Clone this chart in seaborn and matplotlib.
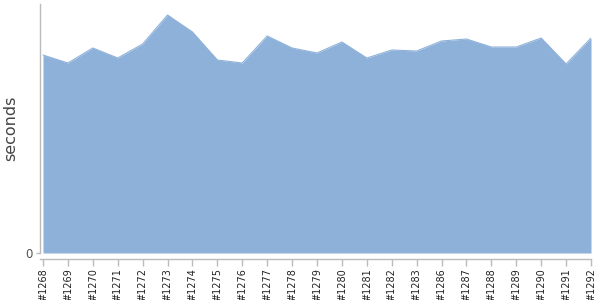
import matplotlib
matplotlib.use("Agg")
import matplotlib.pyplot as plt
import seaborn as sns
import numpy as np
import pandas as pd

builds = ["#1268", "#1269", "#1270", "#1271", "#1272", "#1273", "#1274", "#1275",
          "#1276", "#1277", "#1278", "#1279", "#1280", "#1281", "#1282", "#1283",
          "#1286", "#1287", "#1288", "#1289", "#1290", "#1291", "#1292"]
seconds = [198, 190, 205, 195, 209, 238, 221, 193, 190, 217, 205, 200, 211,
           195, 203, 202, 212, 214, 206, 206, 215, 189, 215]
y_ticks = [0]

sns.set_theme(style="white")
plt.rcParams['font.family'] = ['DejaVu Sans']

df = pd.DataFrame({"build": builds, "seconds": seconds})
df["pos"] = np.arange(len(builds))

fig = plt.figure(figsize=(6, 3), dpi=100)
ax = fig.add_axes([40/600, 47/300, 551/600, 249/300])

fill_color = "#8EB1DA"
sns.lineplot(data=df, x="pos", y="seconds", ax=ax, color=fill_color, linewidth=0.8)
ax.fill_between(df["pos"], 0, df["seconds"], color=fill_color, linewidth=0)

ax.set_xlim(-0.12, len(builds) - 1)
ax.set_ylim(0, 249)
ax.set_xticks(df["pos"])
ax.set_xticklabels(builds)
ax.set_yticks(y_ticks)
ax.set_yticklabels([str(v) for v in y_ticks])
ax.set_xlabel("")
ax.set_ylabel("seconds", fontsize=11.5, color="#444444")
ax.yaxis.set_label_coords(-0.040, 0.5)

for s in ["top", "right"]:
    ax.spines[s].set_visible(False)
for s in ["left", "bottom"]:
    ax.spines[s].set_color("#bbbbbb")
    ax.spines[s].set_linewidth(1)
ax.spines["bottom"].set_position(("outward", 4))
ax.tick_params(axis="x", length=5, width=1, color="#bbbbbb", pad=2, bottom=True,
               labelrotation=90, labelsize=7, labelcolor="#222222")
ax.tick_params(axis="y", length=3, width=1, color="#bbbbbb", pad=2, left=True,
               labelsize=8.5, labelcolor="#555555")

fig.savefig("out.png", dpi=100)
